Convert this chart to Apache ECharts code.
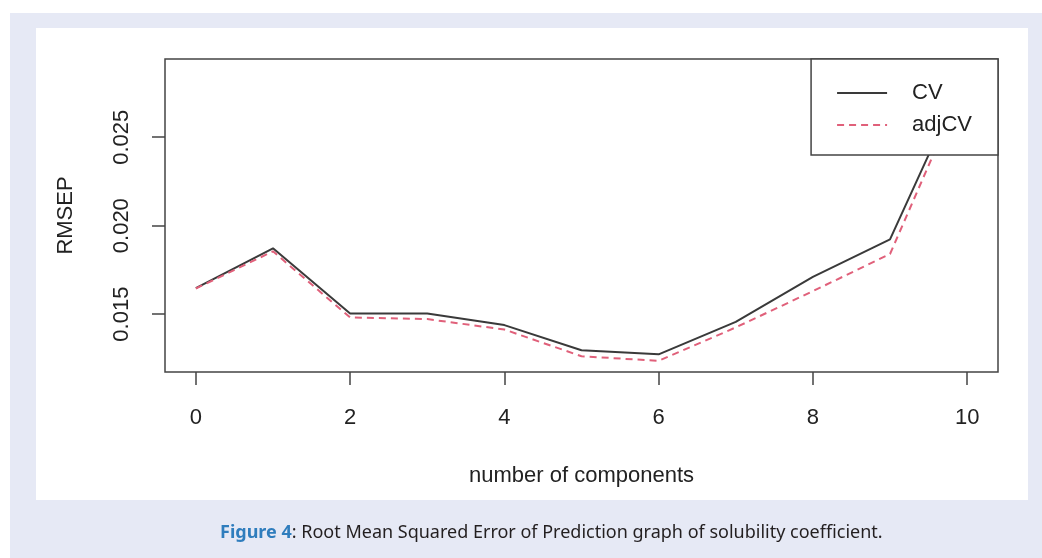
<!DOCTYPE html>
<html>
<head>
<meta charset="utf-8">
<script src="https://cdn.jsdelivr.net/npm/echarts@6/dist/echarts.min.js"></script>
<style>
    html, body { margin: 0; padding: 0; background: #fff; }
    #chart { width: 1042px; height: 558px; }
</style>
</head>
<body>
<div id="chart"></div>
<script>
// 数据
var components = [0, 1, 2, 3, 4, 5, 6, 7, 8, 9, 10];
var cvValues = [0.01647, 0.01872, 0.01504, 0.01504, 0.01438, 0.01296, 0.01273, 0.01456, 0.01711, 0.01923, 0.02876];
var adjCvValues = [0.01645, 0.01855, 0.01481, 0.01472, 0.01413, 0.01262, 0.01236, 0.01425, 0.01630, 0.01840, 0.02840];
var xTicks = [0, 2, 4, 6, 8, 10];
var yTicks = [0.015, 0.020, 0.025];

window.onload = function () {
    var myChart = echarts.init(document.getElementById('chart'));
    var font = 'Liberation Sans, Arial, sans-serif';

    function pairs(vals) {
        var out = [];
        for (var i = 0; i < components.length; i++) {
            out.push([components[i], vals[i]]);
        }
        return out;
    }

    var option = {
        animation: false,
        backgroundColor: '#ffffff',
        textStyle: { fontFamily: font },
        graphic: [
            { type: 'rect', z: -10, shape: { x: 10, y: 13, width: 1032, height: 545 }, style: { fill: '#e6e9f5' } },
            { type: 'rect', z: -9, shape: { x: 36, y: 28, width: 992, height: 472 }, style: { fill: '#ffffff' } }
        ],
        title: {
            left: 215,
            top: 519,
            text: '{a|Figure 4}{b|: Root Mean Squared Error of Prediction graph of solubility coefficient.}',
            textStyle: {
                rich: {
                    a: { fontFamily: 'Noto Sans', fontSize: 18, fontWeight: 'bold', color: '#2f7dbd' },
                    b: { fontFamily: 'Noto Sans', fontSize: 18, fontWeight: 'normal', color: '#231f20' }
                }
            }
        },
        grid: {
            left: 165,
            top: 59,
            width: 833,
            height: 313,
            show: true,
            borderColor: '#444',
            borderWidth: 1.5,
            backgroundColor: 'transparent'
        },
        legend: {
            orient: 'vertical',
            top: 59,
            right: 44,
            backgroundColor: '#fff',
            borderColor: '#444',
            borderWidth: 1.5,
            borderRadius: 0,
            padding: [23, 26, 19, 25],
            itemWidth: 50,
            itemHeight: 2,
            itemGap: 10,
            itemStyle: { opacity: 0 },
            textStyle: { fontFamily: font, fontSize: 22, lineHeight: 22, color: '#222', padding: [0, 0, 0, 20] },
            data: ['CV', 'adjCV']
        },
        xAxis: {
            type: 'value',
            min: -0.4,
            max: 10.4,
            name: 'number of components',
            nameLocation: 'middle',
            nameGap: 93,
            nameMoveOverlap: false,
            nameTextStyle: { fontFamily: font, fontSize: 22, color: '#222' },
            axisLine: { show: false, onZero: false },
            axisTick: { show: true, customValues: xTicks, length: 13, lineStyle: { color: '#444', width: 1.5 } },
            axisLabel: { customValues: xTicks, margin: 35, fontFamily: font, fontSize: 22, color: '#222' },
            splitLine: { show: false }
        },
        yAxis: {
            type: 'value',
            min: 0.01173,
            max: 0.02942,
            name: 'RMSEP',
            nameLocation: 'middle',
            nameRotate: 90,
            nameGap: 88,
            nameMoveOverlap: false,
            nameTextStyle: { fontFamily: font, fontSize: 22, color: '#222' },
            axisLine: { show: false, onZero: false },
            axisTick: { show: true, customValues: yTicks, length: 13, lineStyle: { color: '#444', width: 1.5 } },
            axisLabel: {
                customValues: yTicks,
                rotate: 90,
                margin: 32,
                fontFamily: font,
                fontSize: 22,
                color: '#222',
                formatter: function (v) { return v.toFixed(3); }
            },
            splitLine: { show: false }
        },
        series: [
            {
                name: 'CV',
                type: 'line',
                symbol: 'none',
                data: pairs(cvValues),
                lineStyle: { color: '#3a3a3a', width: 2 },
                itemStyle: { color: '#3a3a3a' }
            },
            {
                name: 'adjCV',
                type: 'line',
                symbol: 'none',
                data: pairs(adjCvValues),
                lineStyle: { color: '#e0607a', width: 2, type: [7, 5] },
                itemStyle: { color: '#e0607a' }
            }
        ]
    };

    myChart.setOption(option);
};
</script>
</body>
</html>
